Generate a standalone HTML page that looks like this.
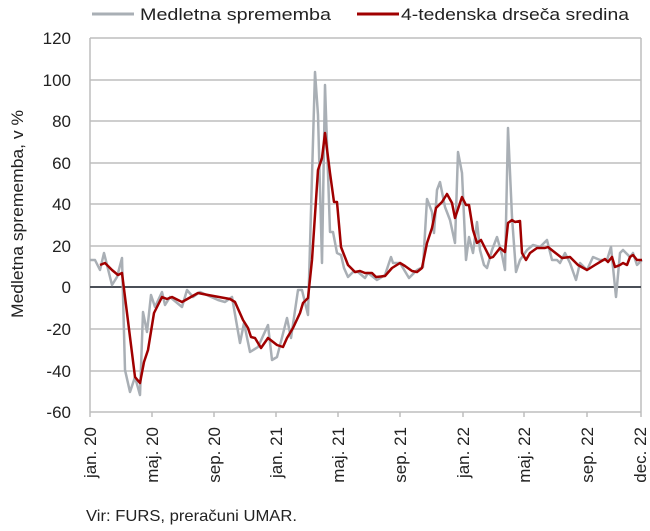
<!DOCTYPE html>
<html><head><meta charset="utf-8"><style>
body{margin:0;background:#fff;}
svg{display:block;font-family:"Liberation Sans",sans-serif;}
</style></head><body>
<svg width="650" height="531" viewBox="0 0 650 531">
<g stroke="#bdbdbd" stroke-width="1.5">
<line x1="90" y1="38" x2="641" y2="38"/><line x1="90" y1="80" x2="641" y2="80"/>
<line x1="90" y1="121" x2="641" y2="121"/><line x1="90" y1="163" x2="641" y2="163"/>
<line x1="90" y1="204" x2="641" y2="204"/><line x1="90" y1="246" x2="641" y2="246"/>
<line x1="90" y1="329" x2="641" y2="329"/><line x1="90" y1="371" x2="641" y2="371"/>
<line x1="90" y1="412" x2="641" y2="412"/>
<line x1="90" y1="38" x2="90" y2="412"/><line x1="641" y1="38" x2="641" y2="412"/>
<line x1="152" y1="412" x2="152" y2="417"/><line x1="214" y1="412" x2="214" y2="417"/>
<line x1="276" y1="412" x2="276" y2="417"/><line x1="338" y1="412" x2="338" y2="417"/>
<line x1="400" y1="412" x2="400" y2="417"/><line x1="463" y1="412" x2="463" y2="417"/>
<line x1="524" y1="412" x2="524" y2="417"/><line x1="587" y1="412" x2="587" y2="417"/>
<line x1="641" y1="412" x2="641" y2="417"/><line x1="90" y1="412" x2="90" y2="417"/>
</g>
<line x1="90" y1="287" x2="641" y2="287" stroke="#4a4f57" stroke-width="2"/>
<polyline fill="none" stroke="#a9afb5" stroke-width="2.5" stroke-linejoin="round" points="90,260 95,260 100,270 104,253 112,285 117,277 122,258 125,370 130,392 135,377 140,395 143,312 147,332 151,295 155,307 162,292 165,305 170,297 182,307 187,290 193,297 200,292 218,300 225,302 232,297 240,343 244,323 250,352 258,347 268,325 272,360 277,357 287,318 291,338 298,290 302,290 308,315 315,72 318,115 322,263 325,85 330,232 333,232 337,253 341,255 344,268 348,277 353,272 358,272 365,278 368,273 377,280 385,275 391,257 393,263 400,263 409,278 417,270 423,267 427,199 432,212 434,233 437,190 440,182 445,207 450,220 455,243 458,152 462,173 466,260 469,237 473,253 477,222 480,250 484,265 487,268 492,250 497,237 502,255 505,270 508,128 512,217 516,272 520,260 527,250 533,245 540,247 547,240 552,260 557,260 560,263 565,253 570,263 576,280 580,263 587,270 593,257 600,260 607,260 611,247 616,297 620,253 623,250 630,257 633,253 637,265 642,260"/>
<polyline fill="none" stroke="#a00000" stroke-width="2.5" stroke-linejoin="round" points="100,265 105,263 112,270 118,275 122,273 135,377 140,383 144,362 148,350 154,313 162,297 167,299 172,297 182,302 198,293 208,295 230,299 235,302 243,320 248,328 251,337 255,338 261,348 268,338 277,345 283,347 287,338 293,328 300,313 303,303 308,298 312,260 318,170 322,158 325,133 330,173 334,202 337,202 341,247 348,265 355,272 360,271 365,273 372,273 376,277 385,276 392,268 400,263 405,266 412,271 417,272 422,268 427,243 432,228 436,208 442,202 447,194 452,203 455,218 462,197 466,205 469,205 473,230 477,243 481,240 490,258 493,257 500,248 505,252 508,223 512,220 515,222 520,221 522,253 526,260 530,253 537,248 545,248 548,247 553,251 562,258 570,257 573,260 578,265 587,270 595,265 605,259 608,262 612,257 615,267 620,265 623,263 627,265 630,257 633,255 637,260 642,260"/>
<g font-size="17" fill="#222" text-anchor="end">
<text x="71" y="44">120</text><text x="71" y="86">100</text><text x="71" y="127">80</text>
<text x="71" y="169">60</text><text x="71" y="210">40</text><text x="71" y="252">20</text>
<text x="71" y="293">0</text><text x="71" y="335">-20</text><text x="71" y="377">-40</text>
<text x="71" y="418">-60</text>
</g>
<g font-size="17" fill="#222" text-anchor="end">
<text transform="translate(96,427) rotate(-90)">jan. 20</text>
<text transform="translate(158,427) rotate(-90)">maj. 20</text>
<text transform="translate(220,427) rotate(-90)">sep. 20</text>
<text transform="translate(282,427) rotate(-90)">jan. 21</text>
<text transform="translate(344,427) rotate(-90)">maj. 21</text>
<text transform="translate(406,427) rotate(-90)">sep. 21</text>
<text transform="translate(469,427) rotate(-90)">jan. 22</text>
<text transform="translate(530,427) rotate(-90)">maj. 22</text>
<text transform="translate(593,427) rotate(-90)">sep. 22</text>
<text transform="translate(646,427) rotate(-90)">dec. 22</text>
</g>
<text transform="translate(23,214) rotate(-90)" font-size="17" fill="#222" text-anchor="middle" textLength="208" lengthAdjust="spacingAndGlyphs">Medletna sprememba, v %</text>
<line x1="92" y1="14" x2="134" y2="14" stroke="#a9afb5" stroke-width="3"/>
<text x="140" y="20" font-size="17" fill="#222" textLength="191" lengthAdjust="spacingAndGlyphs">Medletna sprememba</text>
<line x1="357" y1="14" x2="399" y2="14" stroke="#a00000" stroke-width="3"/>
<text x="401" y="20" font-size="17" fill="#222" textLength="228" lengthAdjust="spacingAndGlyphs">4-tedenska drseča sredina</text>
<text x="86" y="521" font-size="16" fill="#222" textLength="211" lengthAdjust="spacingAndGlyphs">Vir: FURS, preračuni UMAR.</text>
</svg>
</body></html>
